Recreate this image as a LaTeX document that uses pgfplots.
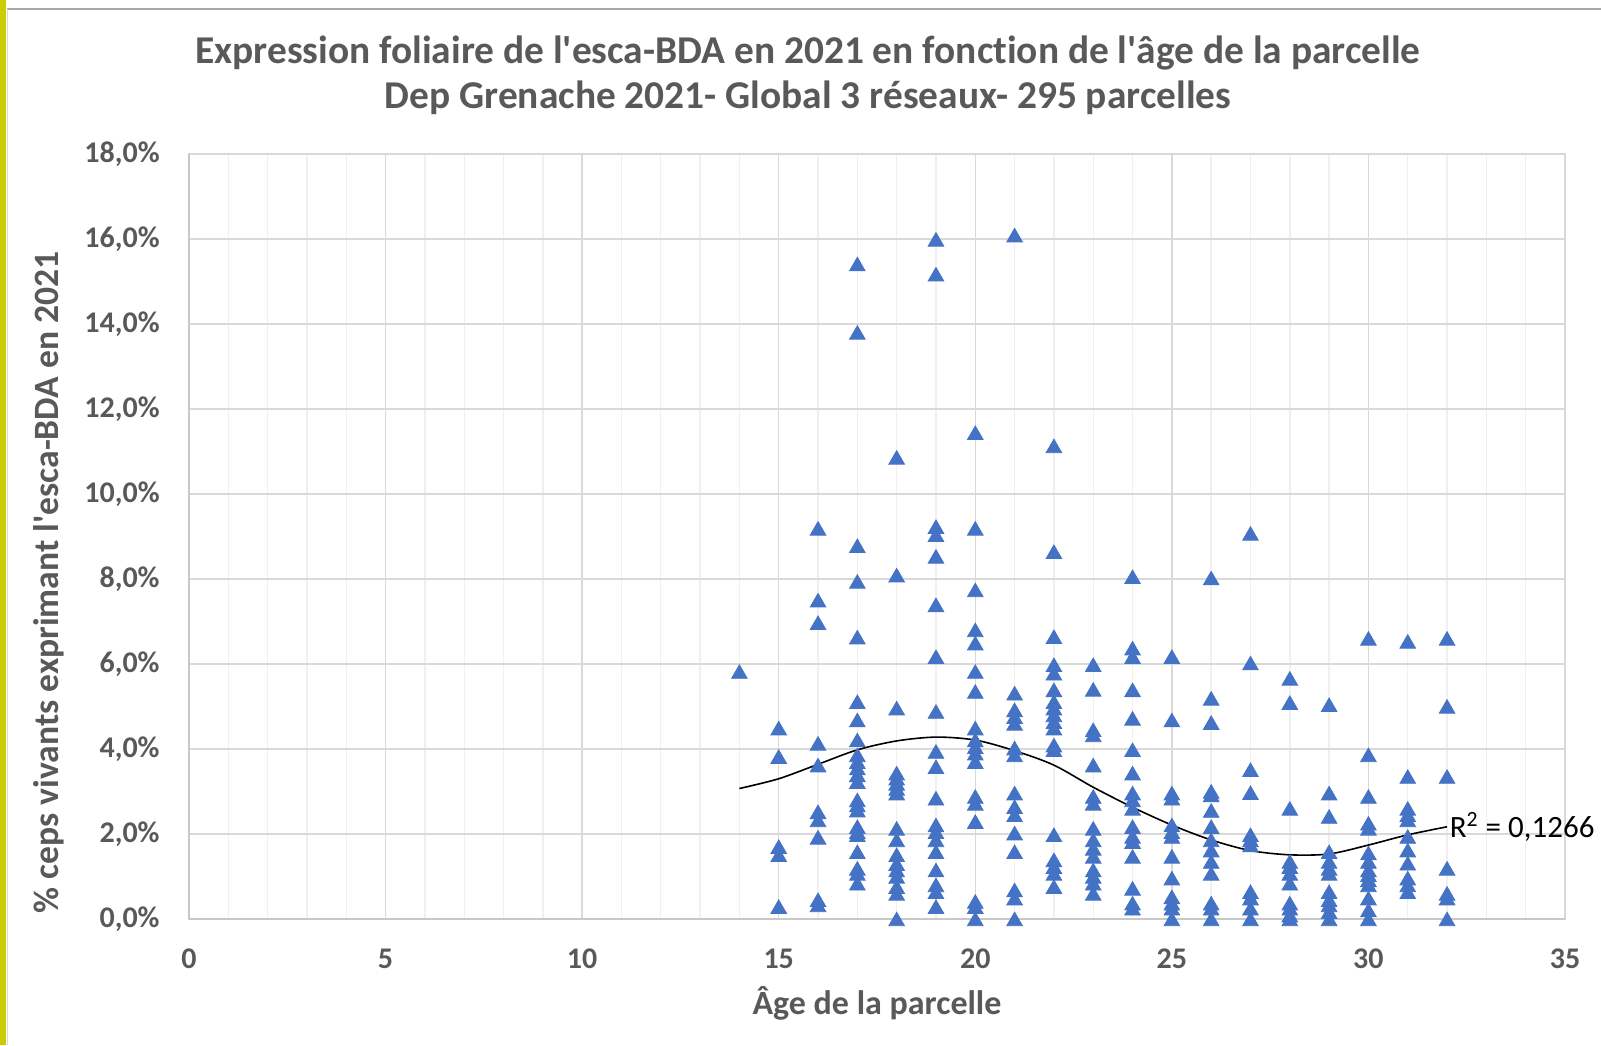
\documentclass[border=0pt]{standalone}
\usepackage{fontspec}
\setmainfont{Carlito}[Ligatures={TeX,CommonOff}]
\usepackage{pgfplots}
\pgfplotsset{compat=1.18}
\usepackage{pgfplotstable}
\definecolor{txt}{HTML}{595959}
\definecolor{mk}{HTML}{4472C4}
\definecolor{gmaj}{HTML}{D9D9D9}
\definecolor{gmin}{HTML}{F0F0F0}
\definecolor{axl}{HTML}{C8C8C8}
\definecolor{ylw}{HTML}{CCCC00}

\pgfplotstableread{
x y
14 5.82
15 4.49
15 3.82
15 1.70
15 1.51
15 0.29
16 9.19
16 7.50
16 6.97
16 4.13
16 3.62
16 2.52
16 2.33
16 1.92
16 0.45
16 0.33
17 15.41
17 13.80
17 8.78
17 7.94
17 6.63
17 5.11
17 4.68
17 4.21
17 3.86
17 3.70
17 3.55
17 3.39
17 3.23
17 2.80
17 2.68
17 2.56
17 2.17
17 2.05
17 1.98
17 1.58
17 1.19
17 1.07
17 0.84
18 10.86
18 8.09
18 4.96
18 3.43
18 3.31
18 3.19
18 3.07
18 2.96
18 2.13
18 1.86
18 1.51
18 1.30
18 1.15
18 1.00
18 0.76
18 0.60
18 0.00
19 15.99
19 15.17
19 9.23
19 9.04
19 8.53
19 7.39
19 6.17
19 4.88
19 3.94
19 3.58
19 2.84
19 2.21
19 2.05
19 1.86
19 1.58
19 1.15
19 0.80
19 0.64
19 0.29
20 11.44
20 9.19
20 7.74
20 6.80
20 6.49
20 5.82
20 5.35
20 4.49
20 4.21
20 4.05
20 3.90
20 3.70
20 2.88
20 2.72
20 2.29
20 0.41
20 0.29
20 0.00
21 16.09
21 5.31
21 4.92
21 4.76
21 4.60
21 4.02
21 3.86
21 2.96
21 2.64
21 2.45
21 2.02
21 1.58
21 0.68
21 0.49
21 0.00
22 11.13
22 8.64
22 6.64
22 5.98
22 5.78
22 5.39
22 5.11
22 4.96
22 4.80
22 4.64
22 4.49
22 4.09
22 3.98
22 1.98
22 1.39
22 1.23
22 1.07
22 0.76
23 5.98
23 5.40
23 4.45
23 4.33
23 3.62
23 2.88
23 2.72
23 2.13
23 1.86
23 1.66
23 1.47
23 1.15
23 1.00
23 0.84
23 0.60
24 8.05
24 6.37
24 6.17
24 5.39
24 4.72
24 3.98
24 3.43
24 2.96
24 2.80
24 2.60
24 2.17
24 1.94
24 1.82
24 1.47
24 0.72
24 0.37
24 0.25
25 6.17
25 4.68
25 2.96
25 2.84
25 2.21
25 2.05
25 1.94
25 1.47
25 0.96
25 0.52
25 0.37
25 0.25
25 0.00
26 8.02
26 5.19
26 4.62
26 3.00
26 2.92
26 2.55
26 2.17
26 1.86
26 1.62
26 1.35
26 1.07
26 0.37
26 0.25
26 0.00
27 9.07
27 6.02
27 3.51
27 2.97
27 1.98
27 1.86
27 1.74
27 0.64
27 0.49
27 0.25
27 0.00
28 5.66
28 5.09
28 2.60
28 1.35
28 1.23
28 1.07
28 0.84
28 0.37
28 0.25
28 0.09
28 0.00
29 5.04
29 2.96
29 2.41
29 1.58
29 1.35
29 1.19
29 1.07
29 0.64
29 0.45
29 0.33
29 0.17
29 0.00
30 6.60
30 3.86
30 2.88
30 2.25
30 2.13
30 1.55
30 1.35
30 1.15
30 1.04
30 0.92
30 0.80
30 0.49
30 0.21
30 0.00
31 6.53
31 3.35
31 2.60
31 2.45
31 2.33
31 1.94
31 1.62
31 1.31
31 0.96
31 0.80
31 0.64
32 6.60
32 5.00
32 3.35
32 1.19
32 0.60
32 0.49
32 0.00
}\pts

\pgfplotstableread{
x y
14 3.07
15 3.30
16 3.64
17 3.98
18 4.19
19 4.28
20 4.21
21 3.96
22 3.62
23 3.10
24 2.63
25 2.21
26 1.86
27 1.61
28 1.51
29 1.53
30 1.74
31 1.98
32 2.17
}\trend

\begin{document}
\begin{tikzpicture}
\path[use as bounding box] (0,0) rectangle (800.5pt,522.5pt);
\fill[ylw] (0,0) rectangle (3pt,522.5pt);
\draw[black!35, line width=0.8pt] (3.5pt,518pt) -- (800.5pt,518pt);
\draw[black!15, line width=0.5pt] (3.8pt,0pt) -- (3.8pt,518pt);
\node[anchor=base, font=\fontsize{19.7}{22}\selectfont\bfseries, text=txt] at (404pt,490.9pt) {Expression foliaire de l\textquotesingle esca-BDA en 2021 en fonction de l\textquotesingle âge de la parcelle};
\node[anchor=base, font=\fontsize{19.7}{22}\selectfont\bfseries, text=txt] at (404pt,468pt) {Dep Grenache 2021- Global 3 réseaux- 295 parcelles};
\begin{axis}[
  at={(94.5pt,63pt)}, anchor=south west,
  width=688pt, height=382.5pt, scale only axis,
  xmin=0, xmax=35, ymin=0, ymax=18,
  xtick={0,5,...,35}, minor xtick={0,1,...,35},
  ytick={0,2,...,18},
  yticklabels={{0,0\%},{2,0\%},{4,0\%},{6,0\%},{8,0\%},{10,0\%},{12,0\%},{14,0\%},{16,0\%},{18,0\%}},
  /pgf/number format/assume math mode=true,
  xmajorgrids, xminorgrids, ymajorgrids,
  major grid style={draw=gmaj, line width=0.7pt},
  minor grid style={draw=gmin, line width=0.7pt},
  axis line style={draw=gmaj, line width=0.7pt},
  major tick length=0pt, minor tick length=0pt,
  tick label style={font=\fontsize{15}{17}\selectfont\bfseries, text=txt},
  yticklabel style={anchor=east, inner sep=0pt, xshift=-14.5pt},
  xticklabel style={anchor=north, inner sep=0pt, yshift=-14.75pt},
  xlabel={Âge de la parcelle},
  xlabel style={font=\fontsize{17}{19}\selectfont\bfseries, text=txt, at={(axis description cs:0.5,0)}, anchor=base, yshift=-47.5pt},
  ylabel={\% ceps vivants exprimant l\textquotesingle esca-BDA en 2021},
  ylabel style={font=\fontsize{17.8}{20}\selectfont\bfseries, text=txt, at={(axis description cs:0,0.44)}, anchor=base, rotate=0, yshift=65pt},
  clip=false,
]
\draw[axl, line width=0.9pt] (rel axis cs:0,0) -- (rel axis cs:0,1);
\draw[axl, line width=0.9pt] (rel axis cs:0,0) -- (rel axis cs:1,0);
\addplot[only marks, mark=triangle*, mark size=4.5pt,
  mark options={fill=mk, draw=mk, line width=0.4pt, yshift=-1.1pt}]
  table[x=x, y=y] {\pts};
\addplot[black, line width=0.8pt, smooth, tension=0.5] table[x=x, y=y] {\trend}
  node[pos=1, anchor=west, inner sep=1pt, font=\fontsize{15.5}{18}\selectfont, text=black] {R\textsuperscript{2} = 0,1266};
\end{axis}
\end{tikzpicture}
\end{document}
